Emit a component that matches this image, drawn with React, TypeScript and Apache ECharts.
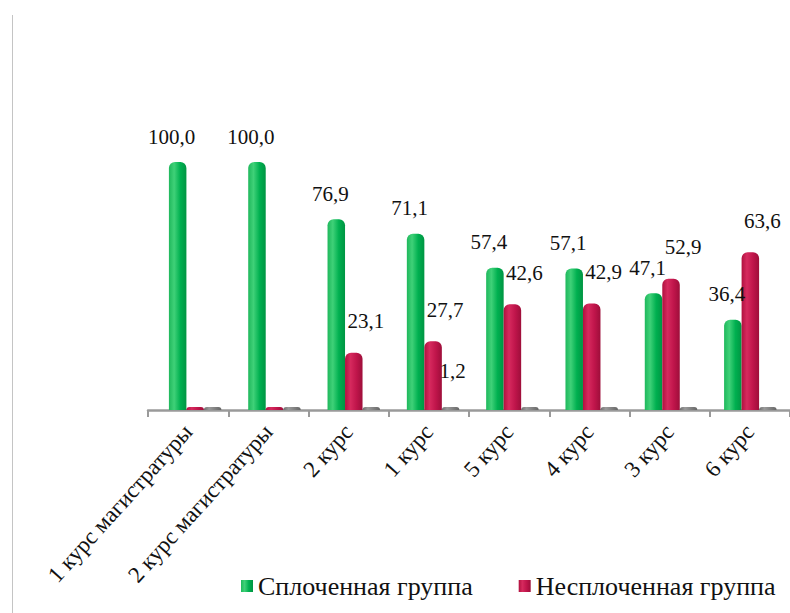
import React, { useEffect, useRef } from "react";
import * as echarts from "echarts";

const categories = [
  "1 курс магистратуры",
  "2 курс магистратуры",
  "2 курс",
  "1 курс",
  "5 курс",
  "4 курс",
  "3 курс",
  "6 курс",
];
const cohesive = [100.0, 100.0, 76.9, 71.1, 57.4, 57.1, 47.1, 36.4];
const nonCohesive = [0, 0, 23.1, 27.7, 42.6, 42.9, 52.9, 63.6];
const other = [0, 0, 0, 1.2, 0, 0, 0, 0];
const seriesNames = ["Сплоченная группа", "Несплоченная группа", "Другое"];

const SERIF = "Liberation Serif";

function grad(c0: string, c1: string, c2: string, c3: string) {
  return new echarts.graphic.LinearGradient(0, 0, 1, 0, [
    { offset: 0, color: c0 },
    { offset: 0.3, color: c1 },
    { offset: 0.65, color: c2 },
    { offset: 1, color: c3 },
  ]);
}

const fmt = (p: any) => (p.value === 0 ? "" : Number(p.value).toFixed(1).replace(".", ","));

export default function App() {
  const ref = useRef<HTMLDivElement>(null);
  useEffect(() => {
    if (!ref.current) return;
    const chart = echarts.init(ref.current, null, { renderer: "svg" });
    const labelBase = {
      show: true,
      position: "top" as const,
      fontFamily: SERIF,
      fontSize: 21,
      color: "#111",
      formatter: fmt,
    };
    chart.setOption({
      animation: false,
      backgroundColor: "#fff",
      textStyle: { fontFamily: SERIF },
      legend: {
        data: [seriesNames[0], seriesNames[1]],
        orient: "horizontal",
        left: 236,
        top: 568,
        width: 554,
        itemWidth: 12,
        itemHeight: 12,
        itemGap: 46,
        icon: "rect",
        textStyle: { fontFamily: SERIF, fontSize: 26, color: "#111" },
      },
      grid: [
        { left: 148, top: 162, width: 650, height: 248 },
        { left: 155.5, top: 162, width: 650, height: 248 },
      ],
      xAxis: [
        {
          type: "category",
          gridIndex: 0,
          data: categories,
          axisLine: { lineStyle: { color: "#9a9a9a", width: 2.5 } },
          axisTick: { show: true, length: 7, lineStyle: { color: "#9a9a9a", width: 2 } },
          axisLabel: {
            interval: 0,
            rotate: 48,
            margin: 18,
            fontFamily: SERIF,
            fontSize: 23,
            color: "#111",
          },
        },
        {
          type: "category",
          gridIndex: 1,
          data: categories,
          show: false,
        },
      ],
      yAxis: [
        { type: "value", gridIndex: 0, min: 0, max: 100, show: false },
        { type: "value", gridIndex: 1, min: 0, max: 100, show: false },
      ],
      series: [
        {
          name: seriesNames[0],
          type: "bar",
          xAxisIndex: 1,
          yAxisIndex: 1,
          data: cohesive,
          barWidth: 17.5,
          barGap: "0%",
          barMinHeight: 3,
          itemStyle: {
            color: grad("#1fb85c", "#3fd178", "#00b050", "#009543"),
            borderRadius: [6, 6, 0, 0],
          },
          label: { ...labelBase, distance: 15, offset: [-6, 0] },
        },
        {
          name: seriesNames[1],
          type: "bar",
          xAxisIndex: 1,
          yAxisIndex: 1,
          data: nonCohesive,
          barWidth: 17.5,
          barGap: "0%",
          barMinHeight: 3,
          itemStyle: {
            color: grad("#b0113f", "#d62a5e", "#c0154b", "#9e0e3a"),
            borderRadius: [6, 6, 0, 0],
          },
          label: { ...labelBase, distance: 21, offset: [12, 0] },
        },
        {
          name: seriesNames[2],
          type: "bar",
          xAxisIndex: 1,
          yAxisIndex: 1,
          data: other,
          barWidth: 17.5,
          barGap: "0%",
          barMinHeight: 3,
          itemStyle: {
            color: grad("#6e6e6e", "#9a9a9a", "#808080", "#666666"),
            borderRadius: [6, 6, 0, 0],
          },
          label: { ...labelBase, distance: 26, offset: [2, 0] },
        },
      ],
      graphic: [
        {
          type: "line",
          shape: { x1: 12.5, y1: 15, x2: 12.5, y2: 613 },
          style: { stroke: "#c4c4c4", lineWidth: 1 },
        },
      ],
    });
    return () => chart.dispose();
  }, []);
  return <div ref={ref} style={{ width: 790, height: 613, position: "absolute", left: 0, top: 0 }} />;
}
